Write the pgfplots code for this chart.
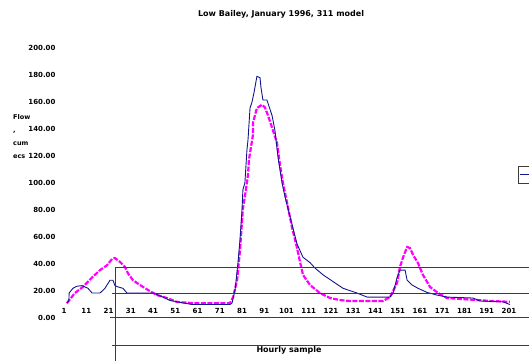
\documentclass[border=0pt]{standalone}
\usepackage{pgfplots}
\pgfplotsset{compat=1.18}
\usepackage{fontspec}
\setmainfont{DejaVu Sans}
\definecolor{navyline}{RGB}{20,20,140}
\definecolor{mag}{RGB}{255,0,255}
\definecolor{gridk}{RGB}{60,60,60}
\begin{document}
\begin{tikzpicture}
\useasboundingbox (0pt,0pt) rectangle (529pt,-361pt);
\begin{axis}[
  at={(64pt,-318pt)}, anchor=south west,
  scale only axis, width=453.9pt, height=270pt,
  xmin=1, xmax=205, ymin=0, ymax=200,
  axis line style={draw=none}, clip=false,
  xtick={1,11,21,31,41,51,61,71,81,91,101,111,121,131,141,151,161,171,181,191,201},
  ytick={0,20,40,60,80,100,120,140,160,180,200},
  yticklabels={0.00,20.00,40.00,60.00,80.00,100.00,120.00,140.00,160.00,180.00,200.00},
  major tick length=0pt, tick style={draw=none},
  every tick label/.append style={font=\fontsize{7}{8}\selectfont\bfseries},
  yticklabel style={anchor=east, xshift=-5pt},
  xticklabel style={anchor=center, yshift=7pt},
  /pgf/number format/assume math mode=true,
]
\addplot[mag, line width=2.2pt, dash pattern=on 5pt off 1.5pt] coordinates {
(2.3,11) (5.9,18.5) (9.5,23) (13.6,30) (17.2,35.5) (20.3,39) (22.6,43.7) (23.9,44.4)
(26.2,41.5) (28.4,37.8) (29.8,33) (32,28) (35.2,24.4) (38.8,20.7) (42.8,17) (47.3,14.8)
(51.8,11.9) (59,11) (75.6,11) (77,15.5) (78.8,28) (80.1,50) (81.4,81) (82.3,90) (83.7,106)
(84.1,117) (85.9,135.5) (86,145) (87.7,155.5) (90,158) (91.3,156) (92.7,150) (94.9,139)
(96.7,130) (98.1,113) (99.4,100) (100.3,93) (103.5,67) (105.7,52) (107.1,41.5) (108.4,32)
(111.6,24.4) (116,18.5) (120.6,14.8) (125,13.3) (129.5,12.6) (144.4,12.6) (147.5,15.5)
(150.7,26) (152,37.8) (153.4,45) (155.2,52.6) (156.5,51.8) (157.9,46.7) (160.1,40.7)
(162.3,32) (165.5,23) (169.1,18.5) (173.1,14.8) (186.6,13.3) (194,12.5) (201.4,12)
};
\addplot[navyline, line width=0.9pt] coordinates {
(2.3,11) (3.2,13) (3.3,18.5) (5,22) (6.8,23.5) (9.1,24) (11.8,22) (13.6,18.5) (17.2,18.5)
(19.4,22) (21.7,28) (23,28) (23.9,24) (25.3,23) (27.5,22) (29.3,18.5) (41,18.5) (45.5,15.5)
(48.6,13) (51.8,12) (58.5,10) (75.6,10) (76.5,11) (77.9,21) (79.2,41) (80.1,58) (81,80)
(81.4,95) (82.3,100) (83.2,124) (83.7,132) (84.6,155.5) (85.5,160) (86.4,167) (87.7,179)
(89.1,178) (89.5,171) (90.4,161.5) (92.2,161.5) (92.7,159) (94.5,150) (95.8,139) (97.2,119)
(99,100) (100.3,90) (102.6,75) (105.7,55) (108.4,45) (111.6,41) (113.8,37) (117.4,32)
(121.9,27) (126.4,22) (132.7,18.5) (137.2,15.5) (147.5,15.5) (148.9,18.5) (150.7,30)
(152,35.5) (154.3,35.5) (155.2,28) (157.4,24.5) (160.1,22) (164.1,19) (168.6,17)
(173.1,15.5) (184.8,14.8) (188,12.6) (198.3,12) (201.4,10)
};
\end{axis}
% stray chart-frame lines
\draw[gridk, line width=0.9pt] (115pt,-267pt) -- (529pt,-267pt);
\draw[gridk, line width=0.9pt] (112pt,-293pt) -- (529pt,-293pt);
\draw[gridk, line width=0.9pt] (110pt,-317pt) -- (529pt,-317pt);
\draw[gridk, line width=0.9pt] (112pt,-345pt) -- (529pt,-345pt);
\draw[gridk, line width=0.9pt] (115pt,-267pt) -- (115pt,-361pt);
% partial legend box
\draw[gridk, line width=0.8pt] (529pt,-166pt) -- (518pt,-166pt) -- (518pt,-183pt) -- (529pt,-183pt);
\draw[navyline, line width=0.9pt] (519.5pt,-174pt) -- (529pt,-174pt);
% texts
\node[font=\fontsize{8}{9}\selectfont\bfseries] at (281pt,-14pt) {Low Bailey, January 1996, 311 model};
\node[font=\fontsize{8}{9}\selectfont\bfseries] at (289pt,-350pt) {Hourly sample};
\node[font=\fontsize{6.5}{13}\selectfont\bfseries, align=left, anchor=north west, inner sep=0pt] at (13pt,-114pt) {Flow\\,\\cum\\ecs};
\end{tikzpicture}
\end{document}
